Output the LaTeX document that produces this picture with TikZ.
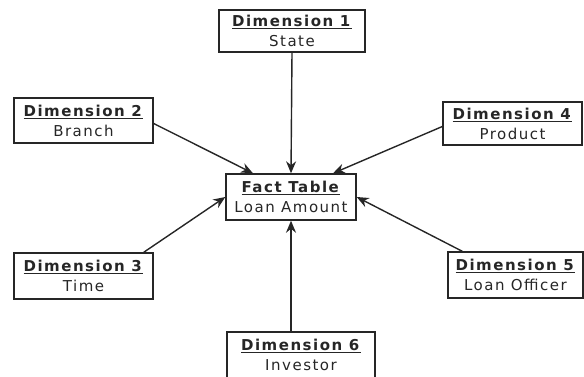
\documentclass[tikz,border=0pt]{standalone}
\usepackage{fontspec}
\setmainfont{DejaVu Sans}[LetterSpace=10]
\usetikzlibrary{arrows.meta,calc}
\tikzset{
  dimbox/.style={draw=black!85, line width=1.4pt, align=center, inner sep=0pt,
    font=\fontsize{15}{20}\selectfont, text=black!85},
  conn/.style={draw=black!85, line width=1.4pt, -{Stealth[length=12pt,width=10pt]}},
}
\newcommand{\hd}[1]{\underline{\textbf{#1}}}
\begin{document}
\begin{tikzpicture}[x=1pt,y=-1pt]
\useasboundingbox (0,0) rectangle (584,376);
\node[dimbox, minimum width=146pt, minimum height=42pt] (d1) at (292,31) {\hd{Dimension 1}\\State};
\node[dimbox, minimum width=139pt, minimum height=45pt] (d2) at (83.5,120.5) {\hd{Dimension 2}\\Branch};
\node[dimbox, minimum width=139pt, minimum height=43pt] (d4) at (512.5,123.5) {\hd{Dimension 4}\\Product};
\node[dimbox, minimum width=130pt, minimum height=46pt] (f) at (291,197) {\hd{Fact Table}\\Loan Amount};
\node[dimbox, minimum width=139pt, minimum height=46pt] (d3) at (83.5,276) {\hd{Dimension 3}\\Time};
\node[dimbox, minimum width=135pt, minimum height=46pt] (d5) at (515.5,275) {\hd{Dimension 5}\\Loan Officer};
\node[dimbox, minimum width=148pt, minimum height=46pt] (d6) at (301,355) {\hd{Dimension 6}\\Investor};
\draw[conn] (d1.south) -- (f.north);
\draw[conn] ([yshift=-3pt]d2.east) -- ([xshift=-38pt]f.north);
\draw[conn] ([yshift=-3pt]d4.west) -- ([xshift=42pt]f.north);
\draw[conn] ([xshift=-10pt]d3.north east) -- (f.west);
\draw[conn] ([xshift=15pt]d5.north west) -- (f.east);
\draw[conn] (d6.north -| f.south) -- (f.south);
\end{tikzpicture}
\end{document}
